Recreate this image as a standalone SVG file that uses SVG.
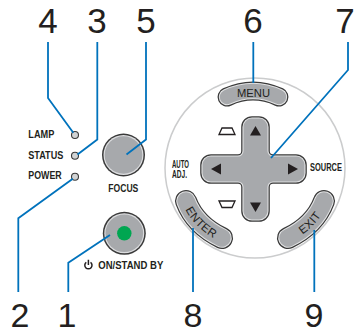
<svg xmlns="http://www.w3.org/2000/svg" width="355" height="334" viewBox="0 0 355 334">
  <style>
    .num{font-family:"Liberation Sans",Arial,sans-serif;font-size:35px;fill:#231f20;text-anchor:middle}
    .numb{font-family:"Liberation Sans",Arial,sans-serif;font-size:34px;fill:#231f20;text-anchor:middle}
    .lbl{font-family:"Liberation Sans Narrow","Liberation Sans",Arial,sans-serif;font-weight:bold;font-size:10.8px;fill:#231f20}
    .btn{font-family:"Liberation Sans Narrow","Liberation Sans",Arial,sans-serif;font-size:11.5px;fill:#231f20}
    .lead{fill:none;stroke:#0072bc;stroke-width:1.8;stroke-linejoin:miter}
    .led{fill:#d1d3d4;stroke:#3a3a3a;stroke-width:1.1}
    .pill-o{fill:none;stroke:#3a3a3a;stroke-linecap:round}
    .pill-l{fill:none;stroke:#e2e3e4;stroke-linecap:round}
    .pill-f{fill:none;stroke:#a7a9ac;stroke-linecap:round}
    .arrow{fill:#231f20}
    .key{fill:#fff;stroke:#231f20;stroke-width:1.3;stroke-linejoin:miter}
  </style>
  <defs>
    <path id="p-menu" d="M227,97 Q253,85 279,97"/>
    <path id="p-enter" d="M186,201 Q195,225 222,238"/>
    <path id="p-exit" d="M288,238 Q315,225 324,201"/>
    <path id="p-cross" d="M243,127 A9,9 0 0 1 252,118 H259 A9,9 0 0 1 268,127 V151 A5,5 0 0 0 273,156 H296 A9,9 0 0 1 305,165 V173 A9,9 0 0 1 296,182 H273 A5,5 0 0 0 268,187 V211 A9,9 0 0 1 259,220 H252 A9,9 0 0 1 243,211 V187 A5,5 0 0 0 238,182 H211 A9,9 0 0 1 202,173 V165 A9,9 0 0 1 211,156 H238 A5,5 0 0 0 243,151 Z"/>
  </defs>

  <rect width="355" height="334" fill="#fff"/>

  <!-- indicator lamps -->
  <g id="lamp">
    <text class="lbl" x="28.3" y="138.3" textLength="26" lengthAdjust="spacingAndGlyphs">LAMP</text>
    <circle class="led" cx="75" cy="135" r="3.5"/>
  </g>
  <g id="status">
    <text class="lbl" x="28.3" y="159" textLength="35" lengthAdjust="spacingAndGlyphs">STATUS</text>
    <circle class="led" cx="75" cy="155.7" r="3.5"/>
  </g>
  <g id="power">
    <text class="lbl" x="28.3" y="179.3" textLength="33.4" lengthAdjust="spacingAndGlyphs">POWER</text>
    <circle class="led" cx="75" cy="176.7" r="3.5"/>
  </g>

  <!-- focus knob -->
  <g id="focus">
    <circle cx="123.5" cy="155" r="21.5" fill="#3a3a3a"/>
    <circle cx="123.5" cy="155" r="20" fill="#dcdddf"/>
    <circle cx="123.5" cy="155" r="18.8" fill="#a7a9ac"/>
    <text class="lbl" x="108.3" y="191.7" textLength="30" lengthAdjust="spacingAndGlyphs">FOCUS</text>
  </g>

  <!-- on / standby button -->
  <g id="on-standby">
    <circle cx="124.3" cy="233.3" r="21.5" fill="#3a3a3a"/>
    <circle cx="124.3" cy="233.3" r="20" fill="#dcdddf"/>
    <circle cx="124.3" cy="233.3" r="18.8" fill="#a7a9ac"/>
    <circle cx="124.3" cy="233.3" r="7.2" fill="#00a651"/>
    <path d="M90.5,262.3 A3.6,3.6 0 1 1 86.3,262.3 M88.4,259.8 V265" fill="none" stroke="#231f20" stroke-width="1.5"/>
    <text class="lbl" x="98.3" y="269" textLength="65" lengthAdjust="spacingAndGlyphs">ON/STAND BY</text>
  </g>

  <!-- control dial -->
  <g id="dial">
    <circle cx="255" cy="168" r="90" fill="#fff" stroke="#cbcccd" stroke-width="1.5"/>
  </g>

  <g id="menu">
    <use href="#p-menu" class="pill-o" stroke-width="19"/>
    <use href="#p-menu" class="pill-l" stroke-width="16.5"/>
    <use href="#p-menu" class="pill-f" stroke-width="14.5"/>
    <text class="btn" x="237" y="97" textLength="33" lengthAdjust="spacingAndGlyphs" font-size="12.5">MENU</text>
  </g>

  <g id="dpad">
    <use href="#p-cross" fill="#3a3a3a" stroke="#3a3a3a" stroke-width="3.6"/>
    <use href="#p-cross" fill="#a7a9ac" stroke="#e2e3e4" stroke-width="1.1"/>
    <polygon class="arrow" points="255.5,126 250,135.5 261,135.5"/>
    <polygon class="arrow" points="250,202.5 261,202.5 255.5,212"/>
    <polygon class="arrow" points="211,169 221,163.5 221,174.5"/>
    <polygon class="arrow" points="298,169 288,163.5 288,174.5"/>
  </g>

  <g id="keystone-up">
    <polygon class="key" points="222,128 232,128 235,134.5 219,134.5"/>
  </g>
  <g id="keystone-down">
    <polygon class="key" points="219,201 235,201 232,207.5 222,207.5"/>
  </g>

  <g id="auto-adj">
    <text class="lbl" font-size="9.5"><tspan x="172" y="167.6" textLength="17" lengthAdjust="spacingAndGlyphs">AUTO</tspan><tspan x="172" y="178.3" textLength="15" lengthAdjust="spacingAndGlyphs">ADJ.</tspan></text>
  </g>
  <g id="source">
    <text class="lbl" x="310" y="170.7" textLength="32" lengthAdjust="spacingAndGlyphs" font-size="10.3">SOURCE</text>
  </g>

  <g id="enter">
    <use href="#p-enter" class="pill-o" stroke-width="22"/>
    <use href="#p-enter" class="pill-l" stroke-width="19.5"/>
    <use href="#p-enter" class="pill-f" stroke-width="17.5"/>
    <text class="btn"><textPath href="#p-enter" startOffset="50%" text-anchor="middle" dominant-baseline="central">ENTER</textPath></text>
  </g>

  <g id="exit">
    <use href="#p-exit" class="pill-o" stroke-width="22"/>
    <use href="#p-exit" class="pill-l" stroke-width="19.5"/>
    <use href="#p-exit" class="pill-f" stroke-width="17.5"/>
    <text class="btn"><textPath href="#p-exit" startOffset="50%" text-anchor="middle" dominant-baseline="central">EXIT</textPath></text>
  </g>

  <!-- leader lines -->
  <g id="connectors">
    <path class="lead" d="M48,42 V98 L73.3,132.8"/>
    <path class="lead" d="M97.3,42 V139.5 L77.5,154.5"/>
    <path class="lead" d="M146,42 V139.5 L126.5,154.5"/>
    <path class="lead" d="M253.3,42 V83"/>
    <path class="lead" d="M348,42 V70 L271,158"/>
    <path class="lead" d="M72.8,178.8 L18.3,218.3 V292"/>
    <path class="lead" d="M110,235 L68.3,262.7 V292"/>
    <path class="lead" d="M193,228 V292"/>
    <path class="lead" d="M314.3,230 V292"/>
  </g>

  <!-- callout numbers -->
  <g id="callouts">
    <text class="num" x="48" y="33">4</text>
    <text class="num" x="97" y="33">3</text>
    <text class="num" x="146" y="33">5</text>
    <text class="num" x="253" y="33">6</text>
    <text class="num" x="345" y="33">7</text>
    <text class="numb" x="20" y="326.5">2</text>
    <text class="numb" x="67" y="326.5">1</text>
    <text class="numb" x="193" y="326.5">8</text>
    <text class="numb" x="314" y="326.5">9</text>
  </g>
</svg>
